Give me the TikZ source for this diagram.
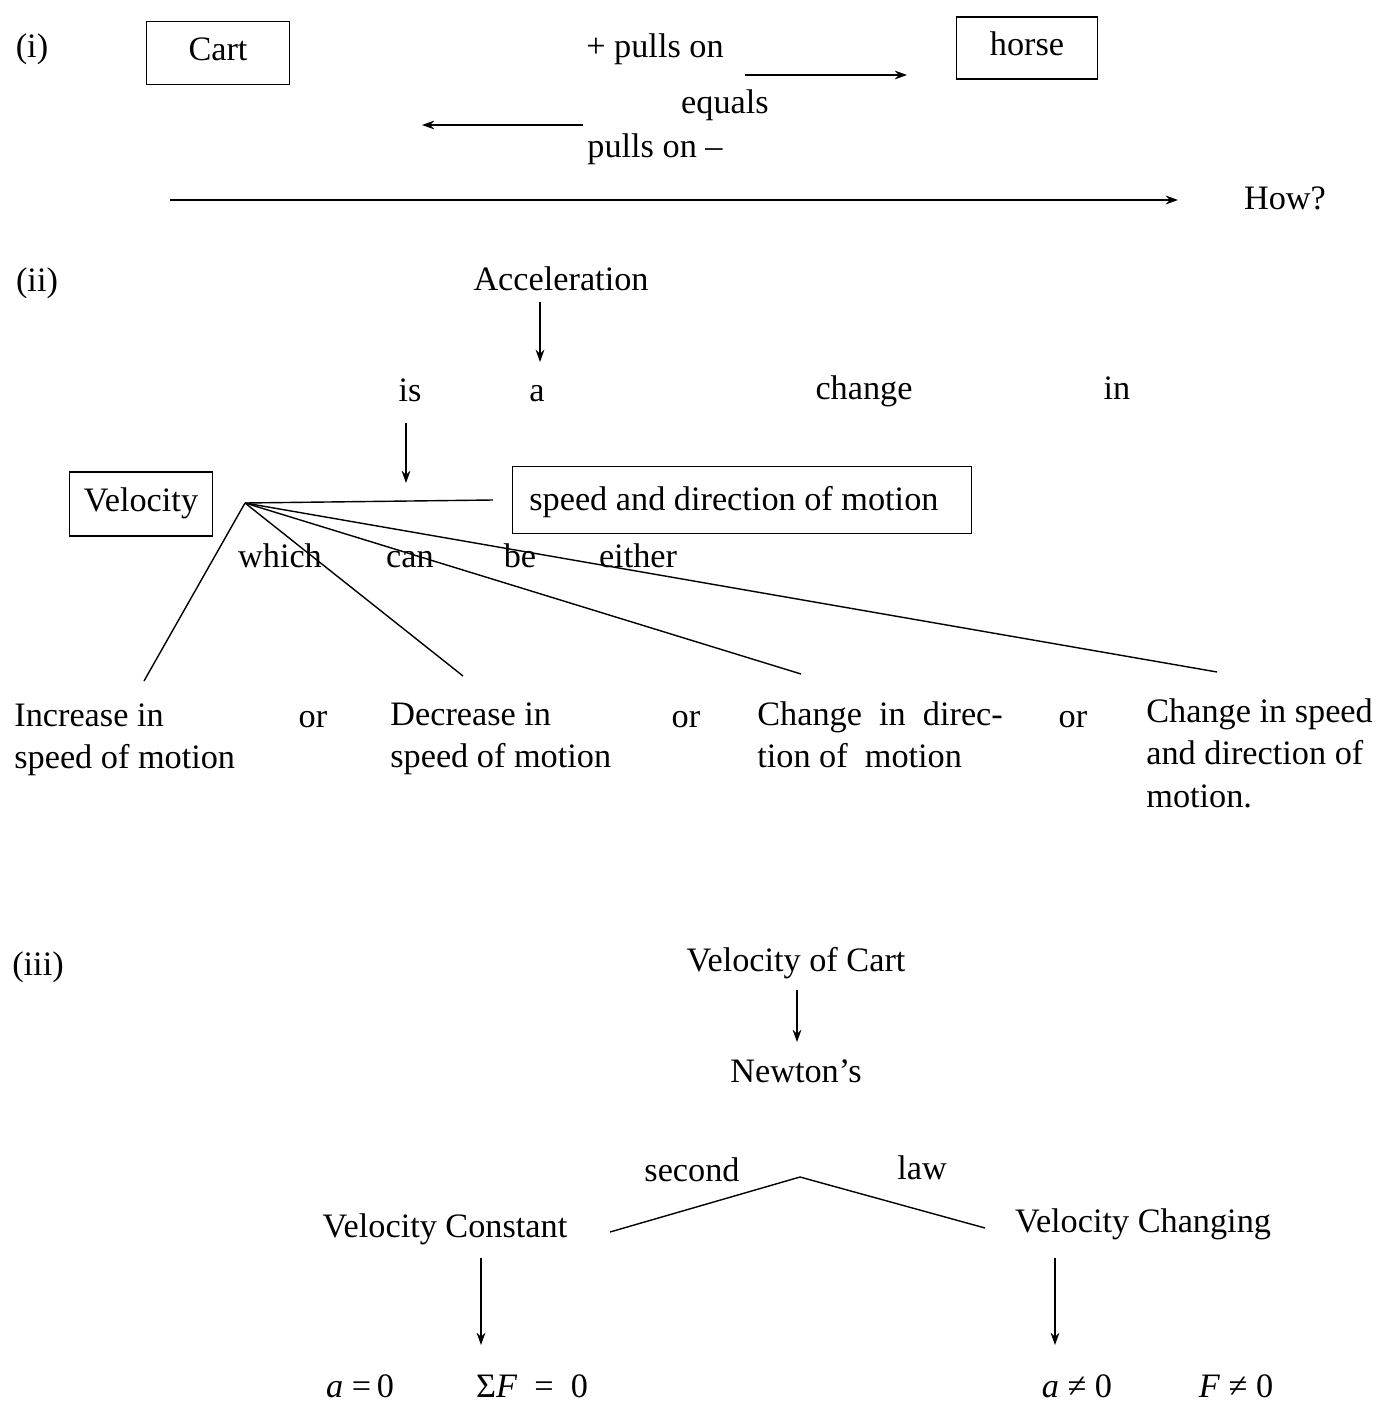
\documentclass[tikz,border=0pt]{standalone}
\usepackage{fontspec}
\setmainfont{Liberation Serif}
\usetikzlibrary{arrows.meta}
\begin{document}
\begin{tikzpicture}[x=0.02cm,y=-0.02cm,
  every node/.style={font=\fontsize{19.5}{23}\selectfont, inner sep=0pt, text height=1.15em, text depth=0.06em},
  box/.style={draw, line width=0.8pt, text height=0.9em, text depth=0.08em},
  conn/.style={line width=0.8pt},
  arr/.style={line width=0.8pt, -{Stealth[length=7pt,width=5pt]}},
  multi/.style={anchor=north west, align=left, text height=, text depth=, font=\fontsize{19.5}{24.3}\selectfont}]
\useasboundingbox (0,0) rectangle (1375,1405);
% (i)
\node (li) at (32,48) {(i)};
\node[box, minimum width=2.86cm, minimum height=1.26cm] (cart) at (218,53) {Cart};
\node (pull1) at (655,48) {+ pulls on};
\node[box, minimum width=2.82cm, minimum height=1.24cm] (horse) at (1027,48) {horse};
\coordinate (a1s) at (745,75); \coordinate (a1e) at (907,75);
\draw[arr] (a1s) -- (a1e);
\node (equals) at (725,104) {equals};
\coordinate (a2s) at (583,125); \coordinate (a2e) at (422,125);
\draw[arr] (a2s) -- (a2e);
\node (pull2) at (655,148) {pulls on --};
\node (how) at (1285,200) {How?};
\coordinate (a3s) at (170,200);
\draw[arr] (a3s) -- (1178,200);
% (ii)
\node (lii) at (37,282) {(ii)};
\node (acc) at (561,281) {Acceleration};
\coordinate (a4s) at (540,302); \coordinate (a4e) at (540,362);
\draw[arr] (a4s) -- (a4e);
\node (is) at (410,392) {is};
\node (aa) at (537,392) {a};
\node (change) at (864,390) {change};
\node (in) at (1117,390) {in};
\coordinate (a5s) at (406,423); \coordinate (a5e) at (406,483);
\draw[arr] (a5s) -- (a5e);
\node[box, minimum width=2.86cm, minimum height=1.28cm] (vel) at (141,504) {Velocity};
\node[box, minimum width=9.18cm, minimum height=1.34cm] (spd) at (742,500) {};
\node[anchor=west] (spdt) at (529,501) {speed and direction of motion};
\coordinate (hub) at (245,503);
\coordinate (hr) at (493,500);
\draw[conn] (hub) -- (hr);
\coordinate (b1) at (144,681);
\coordinate (b2) at (463,676);
\coordinate (b3) at (801,674);
\coordinate (b4) at (1217,672);
\draw[conn] (hub) -- (b1);
\draw[conn] (hub) -- (b2);
\draw[conn] (hub) -- (b3);
\draw[conn] (hub) -- (b4);
\node (which) at (280,558) {which};
\node (can) at (410,558) {can};
\node (be) at (520,558) {be};
\node (either) at (638,558) {either};
\node[multi] (t1) at (14,703) {Increase in\\speed of motion};
\node (or1) at (313,718) {or};
\node[multi] (t2) at (390,702) {Decrease in\\speed of motion};
\node (or2) at (686,718) {or};
\node[multi] (t3) at (757,701) {Change\ \ in\ \ direc-\\tion of\ \ motion};
\node (or3) at (1073,718) {or};
\node[multi] (t4) at (1146,698) {Change in speed\\and direction of\\motion.};
% (iii)
\node (liii) at (38,966) {(iii)};
\node (voc) at (796,962) {Velocity of Cart};
\coordinate (a6s) at (797,990); \coordinate (a6e) at (797,1042);
\draw[arr] (a6s) -- (a6e);
\node (newton) at (796,1073) {Newton's};
\node (second) at (692,1172) {second};
\node (law) at (922,1170) {law};
\coordinate (p1) at (610,1232);
\coordinate (p2) at (800,1177);
\coordinate (p3) at (985,1228);
\draw[conn] (p1) -- (p2) -- (p3);
\node (vc) at (445,1228) {Velocity Constant};
\node (vch) at (1143,1223) {Velocity Changing};
\coordinate (a7s) at (481,1258); \coordinate (a7e) at (481,1345);
\draw[arr] (a7s) -- (a7e);
\coordinate (a8s) at (1055,1258); \coordinate (a8e) at (1055,1345);
\draw[arr] (a8s) -- (a8e);
\node (e1) at (360,1388) {\textit{a} =\,0};
\node (e2) at (532,1388) {Σ\textit{F}\ \ =\ \ 0};
\node (e3) at (1077,1388) {\textit{a}\ ≠\ 0};
\node (e4) at (1236,1388) {\textit{F}\ ≠\ 0};
\end{tikzpicture}
\end{document}
